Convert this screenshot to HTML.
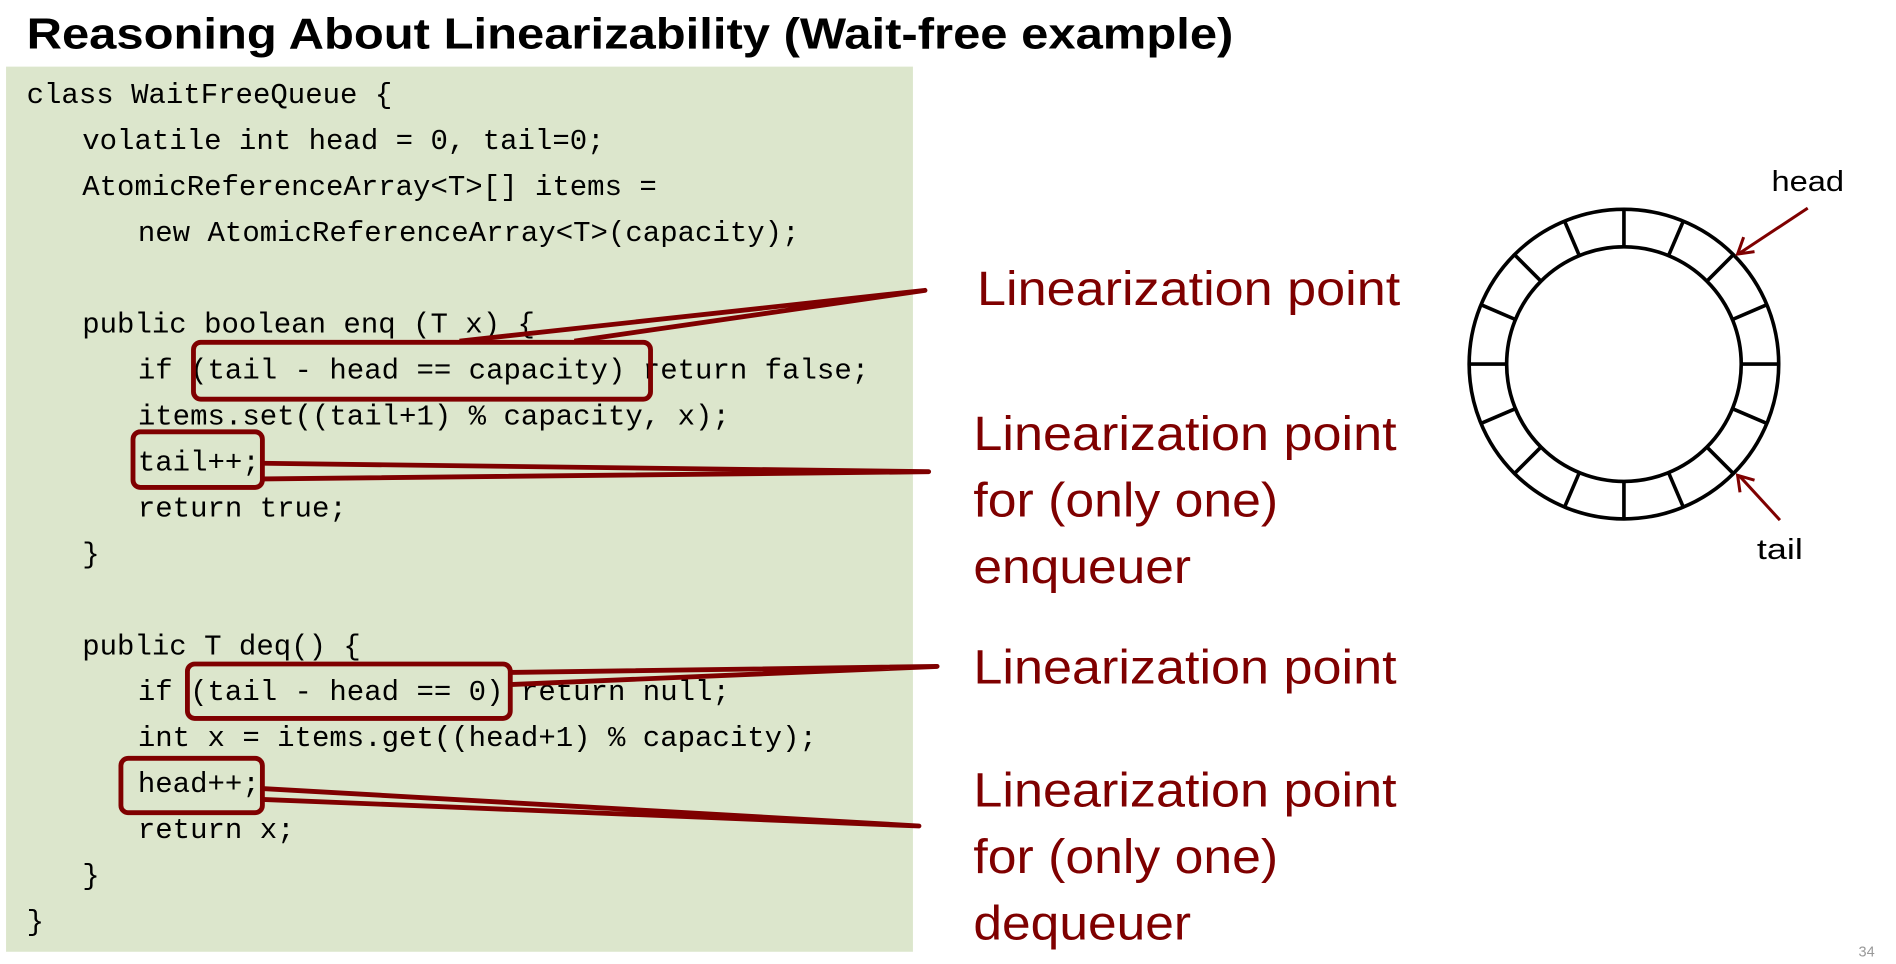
<!DOCTYPE html>
<html><head><meta charset="utf-8"><style>html,body{margin:0;padding:0;background:#fff}svg{display:block}</style></head>
<body>
<svg width="1896" height="964" viewBox="0 0 1568 797" xmlns="http://www.w3.org/2000/svg">
<rect width="1568" height="797" fill="#fff"/>
<text x="22" y="40" font-family="Liberation Sans, sans-serif" font-weight="bold" font-size="36" textLength="998" lengthAdjust="spacingAndGlyphs">Reasoning About Linearizability (Wait-free example)</text>
<rect x="5" y="55" width="750" height="732" fill="#dce6cc"/>
<g font-family="Liberation Mono, monospace" font-size="24" fill="#000" transform="translate(0,2)">
<text x="22" y="83">class WaitFreeQueue {</text>
<text x="68" y="121">volatile int head = 0, tail=0;</text>
<text x="68" y="159">AtomicReferenceArray&lt;T&gt;[] items =</text>
<text x="114" y="197">new AtomicReferenceArray&lt;T&gt;(capacity);</text>
<text x="68" y="273">public boolean enq (T x) {</text>
<text x="114" y="311">if (tail - head == capacity) return false;</text>
<text x="114" y="349">items.set((tail+1) % capacity, x);</text>
<text x="114" y="387">tail++;</text>
<text x="114" y="425">return true;</text>
<text x="68" y="463">}</text>
<text x="68" y="539">public T deq() {</text>
<text x="114" y="577">if (tail - head == 0) return null;</text>
<text x="114" y="615">int x = items.get((head+1) % capacity);</text>
<text x="114" y="653">head++;</text>
<text x="114" y="691">return x;</text>
<text x="68" y="729">}</text>
<text x="22" y="767">}</text>
</g>
<g fill="none" stroke="#7f0000" stroke-width="4" stroke-linejoin="round">
<rect x="160" y="283" width="378" height="47" rx="6"/>
<rect x="110" y="357" width="107" height="46" rx="6"/>
<rect x="155" y="549" width="267" height="45" rx="6"/>
<rect x="100" y="627" width="117" height="45" rx="6"/>
<polyline points="380,282 765,240 475,282"/>
<polyline points="217,383 768,390 217,396"/>
<polyline points="422,556 775,551 422,566"/>
<polyline points="217,652 760,683 217,661"/>
</g>
<g font-family="Liberation Sans, sans-serif" font-size="40" fill="#7f0000">
<text x="808" y="252" textLength="350" lengthAdjust="spacingAndGlyphs">Linearization point</text>
<text x="805" y="372" textLength="350" lengthAdjust="spacingAndGlyphs">Linearization point</text>
<text x="805" y="427" textLength="252" lengthAdjust="spacingAndGlyphs">for (only one)</text>
<text x="805" y="482" textLength="180" lengthAdjust="spacingAndGlyphs">enqueuer</text>
<text x="805" y="565" textLength="350" lengthAdjust="spacingAndGlyphs">Linearization point</text>
<text x="805" y="667" textLength="350" lengthAdjust="spacingAndGlyphs">Linearization point</text>
<text x="805" y="722" textLength="252" lengthAdjust="spacingAndGlyphs">for (only one)</text>
<text x="805" y="777" textLength="180" lengthAdjust="spacingAndGlyphs">dequeuer</text>
</g>
<g fill="none" stroke="#000" stroke-width="3">
<circle cx="1343" cy="301" r="128"/>
<circle cx="1343" cy="301" r="97"/>
<g stroke-width="3">
<line x1="1343" y1="173" x2="1343" y2="204"/>
<line x1="1343" y1="398" x2="1343" y2="429"/>
<line x1="1215" y1="301" x2="1246" y2="301"/>
<line x1="1440" y1="301" x2="1471" y2="301"/>
<line x1="1392" y1="183" x2="1380" y2="211"/>
<line x1="1294" y1="183" x2="1306" y2="211"/>
<line x1="1392" y1="419" x2="1380" y2="391"/>
<line x1="1294" y1="419" x2="1306" y2="391"/>
<line x1="1461" y1="252" x2="1433" y2="264"/>
<line x1="1225" y1="252" x2="1253" y2="264"/>
<line x1="1461" y1="350" x2="1433" y2="338"/>
<line x1="1225" y1="350" x2="1253" y2="338"/>
<line x1="1433" y1="211" x2="1412" y2="232"/>
<line x1="1253" y1="211" x2="1274" y2="232"/>
<line x1="1433" y1="391" x2="1412" y2="370"/>
<line x1="1253" y1="391" x2="1274" y2="370"/>
</g>
</g>
<g stroke="#7f0000" stroke-width="2.5" fill="none">
<line x1="1495" y1="172" x2="1439" y2="209"/>
<polyline points="1442,196 1437,210 1451,208"/>
<line x1="1472" y1="430" x2="1439" y2="394"/>
<polyline points="1439,407 1437,393 1451,397"/>
</g>
<text x="1465" y="158" font-family="Liberation Sans, sans-serif" font-size="24" textLength="60" lengthAdjust="spacingAndGlyphs">head</text>
<text x="1453" y="462" font-family="Liberation Sans, sans-serif" font-size="24" textLength="38" lengthAdjust="spacingAndGlyphs">tail</text>
<text x="1537" y="791" font-family="Liberation Sans, sans-serif" font-size="12" fill="#999">34</text>
</svg>
</body></html>
